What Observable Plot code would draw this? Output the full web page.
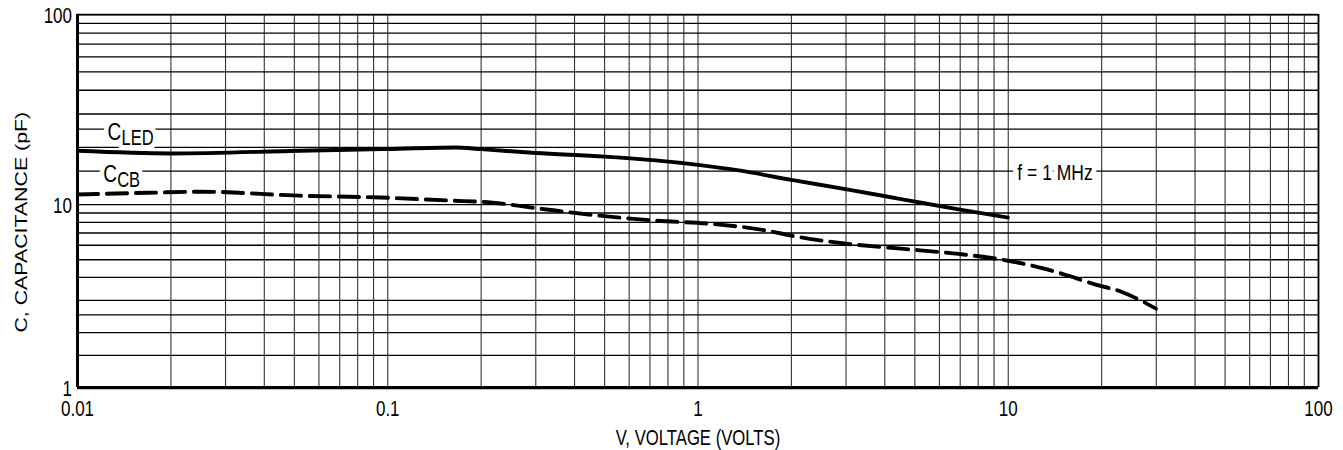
<!DOCTYPE html>
<html><head><meta charset="utf-8">
<script src="https://cdn.jsdelivr.net/npm/d3@7"></script>
<script src="https://cdn.jsdelivr.net/npm/@observablehq/plot@0.6"></script>
<style>
html,body{margin:0;padding:0;background:#fff;}
#chart svg{display:block}
</style></head><body><div id="chart"></div>
<script>
// C_LED curve (solid)
const voltsLED = [0.01, 0.02, 0.052, 0.095, 0.165, 0.2, 0.3, 0.5, 0.73, 1.0, 1.37, 2.0, 3.05, 4.1, 5.3, 7.0, 10];
const capLED   = [19.2, 18.6, 19.2, 19.6, 20.0, 19.6, 18.7, 17.9, 17.1, 16.2, 15.1, 13.5, 12.0, 11.0, 10.2, 9.4, 8.5];
// C_CB curve (dashed)
const voltsCB = [0.01, 0.017, 0.025, 0.052, 0.095, 0.16, 0.21, 0.315, 0.48, 0.73, 1.11, 1.67, 2.0, 3.05, 4.6, 6.9, 10, 13.2, 15.6, 18.8, 23.4, 30];
const capCB   = [11.3, 11.55, 11.7, 11.15, 10.9, 10.5, 10.3, 9.47, 8.71, 8.18, 7.85, 7.21, 6.77, 6.10, 5.73, 5.38, 4.94, 4.45, 4.09, 3.69, 3.32, 2.70];

// axes
const xTicks = [0.01, 0.1, 1, 10, 100];
const xTickLabels = ["0.01", "0.1", "1", "10", "100"];
const yTicks = [1, 10, 100];
const yTickLabels = ["1", "10", "100"];
const xTitle = "V, VOLTAGE (VOLTS)";
const yTitle = "C, CAPACITANCE (pF)";

// grid lines
const xGrid = [0.01,0.02,0.03,0.04,0.05,0.06,0.07,0.08,0.09,
               0.1,0.2,0.3,0.4,0.5,0.6,0.7,0.8,0.9,
               1,2,3,4,5,6,7,8,9,
               10,20,30,40,50,60,70,80,90,100];
const yGrid = [1.5,2,2.5,3,4,5,6,7,8,9,10,15,20,25,30,40,50,60,70,80,90,100];

// curve labels
const labelMain = ["C", "C", "f = 1 MHz"];
const labelSub  = ["LED", "CB", ""];
const labelX    = [0.0125, 0.0121, 10.7];
const labelY    = [25, 15, 15];

const ledData = voltsLED.map((v, i) => ({v, c: capLED[i]}));
const cbData = voltsCB.map((v, i) => ({v, c: capCB[i]}));
const labels = labelMain.map((t, i) => ({t, s: labelSub[i], x: labelX[i], y: labelY[i]}));
const mainLabels = labels.filter(d => d.s);
const fLabel = labels.filter(d => !d.s);

// The reference is drawn vertically stretched: render at height H, display at OUTH.
const W = 1343, H = 346, OUTH = 450, K = OUTH / H;
const font = "'Liberation Sans', Arial, Helvetica, sans-serif";

const plot = Plot.plot({
  width: W, height: H,
  marginLeft: 77, marginRight: 25, marginTop: 14 / K, marginBottom: H - 387 / K,
  style: {fontFamily: font, fontSize: "17px", color: "#000", background: "#fff"},
  x: {type: "log", domain: [0.01, 100]},
  y: {type: "log", domain: [1, 10, 100], range: [387 / K, 204 / K, 14 / K]},
  marks: [
    Plot.ruleX(xGrid, {stroke: "#333", strokeWidth: 1.1}),
    Plot.ruleY(yGrid, {stroke: "#000", strokeWidth: 1}),
    Plot.ruleX([100], {stroke: "#000", strokeWidth: 1.8}),
    Plot.ruleY([100], {stroke: "#000", strokeWidth: 1.2}),
    Plot.ruleX([0.01], {stroke: "#000", strokeWidth: 3}),
    Plot.ruleY([1], {stroke: "#000", strokeWidth: 2.4}),
    // halos that break the grid lines behind the labels
    Plot.text(mainLabels, {x: "x", y: "y", text: "t", textAnchor: "start", lineAnchor: "middle", dy: 2.4, fontSize: 19, fill: "#fff", stroke: "#fff", strokeWidth: 9, strokeLinejoin: "round"}),
    Plot.text(mainLabels, {x: "x", y: "y", text: "s", textAnchor: "start", lineAnchor: "middle", dx: 14, dy: 6.6, fontSize: 16.5, fill: "#fff", stroke: "#fff", strokeWidth: 9, strokeLinejoin: "round"}),
    Plot.text(fLabel, {x: "x", y: "y", text: "t", textAnchor: "start", lineAnchor: "middle", dy: 1.5, fontSize: 17.5, fill: "#fff", stroke: "#fff", strokeWidth: 9, strokeLinejoin: "round"}),
    // label text
    Plot.text(mainLabels, {x: "x", y: "y", text: "t", textAnchor: "start", lineAnchor: "middle", dy: 2.4, fontSize: 19, fill: "#000"}),
    Plot.text(mainLabels, {x: "x", y: "y", text: "s", textAnchor: "start", lineAnchor: "middle", dx: 14, dy: 6.6, fontSize: 16.5, fill: "#000"}),
    Plot.text(fLabel, {x: "x", y: "y", text: "t", textAnchor: "start", lineAnchor: "middle", dy: 1.5, fontSize: 17.5, fill: "#000"}),
    // curves
    Plot.line(ledData, {x: "v", y: "c", stroke: "#000", strokeWidth: 3, curve: "monotone-x"}),
    Plot.line(cbData, {x: "v", y: "c", stroke: "#000", strokeWidth: 3, strokeDasharray: "21,8", curve: "monotone-x"}),
    // axes
    Plot.axisX(xTicks, {tickSize: 0, tickPadding: 10, fontSize: 17, label: null,
      tickFormat: d => xTickLabels[xTicks.indexOf(d)]}),
    Plot.axisY(yTicks, {tickSize: 0, tickPadding: 5.5, fontSize: 17, label: null, dy: 0.8,
      tickFormat: d => yTickLabels[yTicks.indexOf(d)]}),
    Plot.text([xTitle], {frameAnchor: "bottom", text: d => d, textAnchor: "middle", lineAnchor: "middle", dy: 39, fontSize: 16.7, fill: "#000"}),
    Plot.text([yTitle], {frameAnchor: "left", text: d => d, textAnchor: "middle", lineAnchor: "middle", rotate: -90, dx: -56, dy: 16.2, fontSize: 16.4, fill: "#000"})
  ]
});

plot.setAttribute("height", OUTH);
plot.setAttribute("preserveAspectRatio", "none");
plot.style.width = W + "px";
plot.style.height = OUTH + "px";
plot.style.maxWidth = "none";
document.getElementById("chart").appendChild(plot);
</script>
</body></html>
